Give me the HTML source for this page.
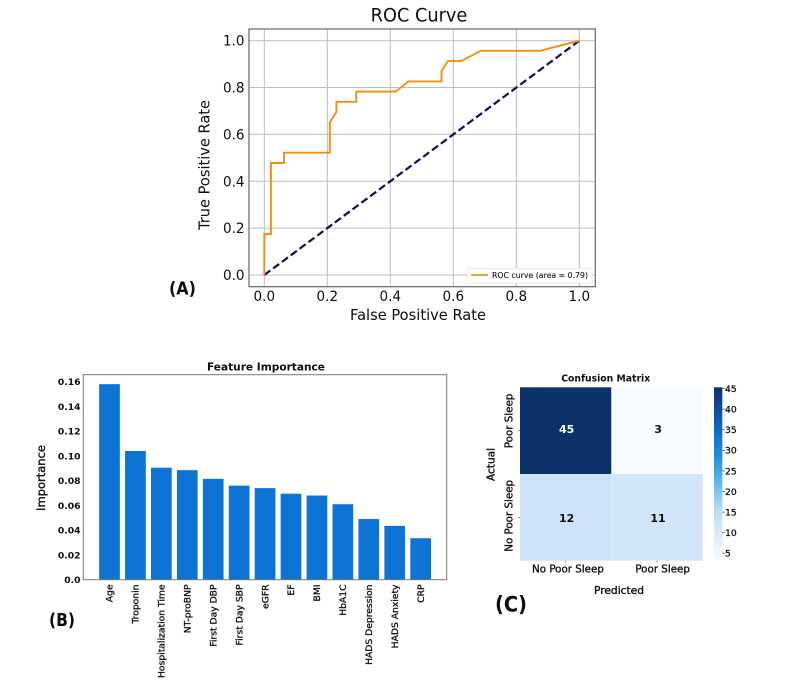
<!DOCTYPE html>
<html lang="en">
<head>
<meta charset="utf-8">
<title>Model evaluation figure</title>
<style>
html,body{margin:0;padding:0;background:#fff;}
body{width:792px;height:693px;overflow:hidden;}
svg{display:block;font-family:"DejaVu Sans","Liberation Sans",sans-serif;}
text{fill:#111;}
.soft{filter:url(#soft);}
</style>
</head>
<body>
<svg id="fig" xmlns="http://www.w3.org/2000/svg" width="792" height="693" viewBox="0 0 792 693">
<defs>
<filter id="soft" x="-2%" y="-2%" width="104%" height="104%"><feGaussianBlur stdDeviation="0.38"/></filter>
<linearGradient id="cbar-gradient" x1="0" y1="1" x2="0" y2="0">
<stop offset="0" stop-color="#f7fbff"/>
<stop offset="0.15" stop-color="#dcebfa"/>
<stop offset="0.3" stop-color="#b5daf6"/>
<stop offset="0.45" stop-color="#5db8ee"/>
<stop offset="0.6" stop-color="#1f8fe0"/>
<stop offset="0.75" stop-color="#0f6cc4"/>
<stop offset="0.9" stop-color="#0a4595"/>
<stop offset="1" stop-color="#08306b"/>
</linearGradient>
</defs>
<g id="root" class="soft"></g>
</svg>
<script>
// ROC data
const rocFpr = [0,0,0.021,0.021,0.0625,0.0625,0.208,0.208,0.229,0.229,0.292,0.292,0.417,0.458,0.5625,0.5625,0.583,0.625,0.6875,0.875,1];
const rocTpr = [0,0.175,0.175,0.478,0.478,0.522,0.522,0.652,0.696,0.739,0.739,0.783,0.783,0.826,0.826,0.87,0.913,0.913,0.957,0.957,1];
const chanceX = [0,1];
const chanceY = [0,1];
const rocTicks = [0,0.2,0.4,0.6,0.8,1];
const rocTickLabels = ["0.0","0.2","0.4","0.6","0.8","1.0"];

// Feature importance data
const features = ["Age","Troponin","Hospitalization Time","NT-proBNP","First Day DBP","First Day SBP","eGFR","EF","BMI","HbA1C","HADS Depression","HADS Anxiety","CRP"];
const importance = [0.158,0.104,0.0905,0.0885,0.0815,0.076,0.074,0.0695,0.068,0.061,0.049,0.0435,0.0335];
const importanceTicks = [0,0.02,0.04,0.06,0.08,0.1,0.12,0.14,0.16];
const importanceTickLabels = ["0.0","0.02","0.04","0.06","0.08","0.10","0.12","0.14","0.16"];

// Confusion matrix data
const actualLabels = ["Poor Sleep","No Poor Sleep"];
const predictedLabels = ["No Poor Sleep","Poor Sleep"];
const matrixValues = [[45,3],[12,11]];
const colorbarTicks = [5,10,15,20,25,30,35,40,45];

const root = document.getElementById('root');
const NS = 'http://www.w3.org/2000/svg';
function mk(tag, attrs, parent, txt){
  const el = document.createElementNS(NS, tag);
  for (const k in attrs) el.setAttribute(k, attrs[k]);
  if (txt !== undefined) el.textContent = txt;
  (parent || root).appendChild(el);
  return el;
}
function fit(el, len){
  el.setAttribute('textLength', len);
  el.setAttribute('lengthAdjust', 'spacingAndGlyphs');
  return el;
}
function scale(d0,d1,r0,r1){ return v => r0 + (v-d0)/(d1-d0)*(r1-r0); }

/* ---------- Panel A: ROC ---------- */
const gA = mk('g', {});


const rx = scale(0,1,264.3,579.3);
const ry = scale(0,1,275,40.7);
const rocBox = {l:249,r:595.3,t:29,b:286.7};

rocTicks.forEach((t,i)=>{
  const gx = mk('line',{x1:rx(t),x2:rx(t),y1:rocBox.t,y2:rocBox.b,stroke:'#bdbdbd','stroke-width':1},gA);
  
  
  const gy = mk('line',{x1:rocBox.l,x2:rocBox.r,y1:ry(t),y2:ry(t),stroke:'#bdbdbd','stroke-width':1},gA);
  
  
  const xl = fit(mk('text',{x:rx(t),y:301,'font-size':14.5,'text-anchor':'middle'},gA,rocTickLabels[i]),21.5);
  
  
  const yl = fit(mk('text',{x:244.5,y:ry(t)+5,'font-size':14.5,'text-anchor':'end'},gA,rocTickLabels[i]),21.5);
  
  
});
const chance = mk('polyline',{points:chanceX.map((x,i)=>rx(x)+','+ry(chanceY[i])).join(' '),fill:'none',stroke:'#08085c','stroke-width':2.2,'stroke-dasharray':'7.5 3.5'},gA);


const roc = mk('polyline',{points:rocFpr.map((x,i)=>rx(x)+','+ry(rocTpr[i])).join(' '),fill:'none',stroke:'#f0900f','stroke-width':1.9},gA);


const rocFrame = mk('rect',{x:rocBox.l,y:rocBox.t,width:rocBox.r-rocBox.l,height:rocBox.b-rocBox.t,fill:'none',stroke:'#666','stroke-width':1.2},gA);


const rocLegend = mk('g',{},gA);


mk('rect',{x:467.5,y:268.5,width:124.5,height:14.5,fill:'#fff',stroke:'#e6e6e6','stroke-width':0.8,rx:1.5},rocLegend);
mk('line',{x1:471,x2:488,y1:275,y2:275,stroke:'#f0900f','stroke-width':1.8},rocLegend);
fit(mk('text',{x:492,y:278,'font-size':7.5,fill:'#222',stroke:'#222','stroke-width':0.1},rocLegend,'ROC curve (area = 0.79)'),96);
const rocTitle = fit(mk('text',{x:419,y:21.7,'font-size':18.5,'text-anchor':'middle'},gA,'ROC Curve'),96.7);


const rocXT = fit(mk('text',{x:418,y:320,'font-size':15.5,'text-anchor':'middle'},gA,'False Positive Rate'),136);


const rocYT = fit(mk('text',{transform:'translate(209.3,165) rotate(-90)','font-size':15.5,'text-anchor':'middle'},gA,'True Positive Rate'),130);


const labA = fit(mk('text',{x:169,y:294.5,'font-size':18,'font-weight':'bold'},root,'(A)'),27);



/* ---------- Panel B: Feature importance ---------- */
const gB = mk('g', {});


const bBox = {l:83.3,r:446.7,t:374.7,b:579.7};
const by = scale(0,0.16,bBox.b,381.7);
const bStep = 25.93;
const bx = i => 109.5 + i*bStep;
const barW = 20.7;
features.forEach((f,i)=>{
  const b = mk('rect',{x:bx(i)-barW/2,y:by(importance[i]),width:barW,height:by(0)-by(importance[i]),fill:'#0873d4'},gB);
  
  
  const t = mk('text',{transform:'translate('+(bx(i)+3.2)+',584.5) rotate(-90)','font-size':9.2,'text-anchor':'end',stroke:'#111','stroke-width':0.3},gB,f);
  
  
});
importanceTicks.forEach((t,i)=>{
  const l = mk('text',{x:80.5,y:by(t)+3.4,'font-size':9.2,'font-weight':'bold','text-anchor':'end'},gB,importanceTickLabels[i]);
  
  
});
const bFrame = mk('rect',{x:bBox.l,y:bBox.t,width:bBox.r-bBox.l,height:bBox.b-bBox.t,fill:'none',stroke:'#777','stroke-width':1},gB);


const bTitle = fit(mk('text',{x:266,y:370.5,'font-size':11,'font-weight':'bold','text-anchor':'middle'},gB,'Feature Importance'),118);


const bYT = mk('text',{transform:'translate(45,478) rotate(-90)','font-size':11.5,'text-anchor':'middle',stroke:'#111','stroke-width':0.35},gB,'Importance');


const labB = fit(mk('text',{x:49,y:626,'font-size':18,'font-weight':'bold'},root,'(B)'),26);



/* ---------- Panel C: Confusion matrix ---------- */
const gC = mk('g', {});


const hm = {l:520,r:702.7,t:387.3,b:560.7};
const cellW = (hm.r-hm.l)/predictedLabels.length;
const cellH = (hm.b-hm.t)/actualLabels.length;
const vMin = 3, vMax = 45;
const blues = [[247,251,255],[208,229,250],[181,218,246],[93,184,238],[31,143,224],[15,108,196],[10,69,149],[8,48,107]];
const bluesPos = [0,0.2,0.3,0.45,0.6,0.75,0.9,1];
function cellColor(v){
  const t = Math.max(0,Math.min(1,(v-vMin)/(vMax-vMin)));
  let i = 0;
  while (i < bluesPos.length-2 && t > bluesPos[i+1]) i++;
  const f = (t-bluesPos[i])/(bluesPos[i+1]-bluesPos[i]);
  const c = blues[i].map((a,k)=>Math.round(a+(blues[i+1][k]-a)*f));
  return 'rgb('+c.join(',')+')';
}
matrixValues.forEach((row,r)=>{
  row.forEach((v,c)=>{
    const x = hm.l+c*cellW, y = hm.t+r*cellH;
    const cell = mk('rect',{x:x,y:y,width:cellW,height:cellH,fill:cellColor(v)},gC);
    
    
    const t = mk('text',{x:x+cellW/2+1,y:y+cellH/2+2.5+r*2,'font-size':11,'font-weight':'bold','text-anchor':'middle',style:'fill:'+(v>24?'#fff':'#111')},gC,String(v));
    
    
  });
});
predictedLabels.forEach((p,i)=>{
  const x = hm.l+(i+0.5)*cellW;
  mk('line',{x1:x,x2:x,y1:hm.b,y2:hm.b+2,stroke:'#666','stroke-width':0.7},gC);
  const l = mk('text',{x:x+2.3+i*3.3,y:572.5,'font-size':10.3,'text-anchor':'middle',stroke:'#111','stroke-width':0.3},gC,p);
  
  
});
actualLabels.forEach((a,i)=>{
  const y = hm.t+(i+0.5)*cellH;
  mk('line',{x1:hm.l-2,x2:hm.l,y1:y,y2:y,stroke:'#666','stroke-width':0.7},gC);
  const l = mk('text',{transform:'translate(512.7,'+(y-9.7+i*8.2)+') rotate(-90)','font-size':10.3,'text-anchor':'middle',stroke:'#111','stroke-width':0.3},gC,a);
  
  
});
const cTitle = fit(mk('text',{x:605.7,y:381.5,'font-size':9.8,'font-weight':'bold','text-anchor':'middle'},gC,'Confusion Matrix'),89);


const cXT = fit(mk('text',{x:619,y:594,'font-size':10.3,'text-anchor':'middle',stroke:'#111','stroke-width':0.35},gC,'Predicted'),50);


const cYT = fit(mk('text',{transform:'translate(494.3,464.5) rotate(-90)','font-size':10.3,'text-anchor':'middle',stroke:'#111','stroke-width':0.35},gC,'Actual'),33);


const cbar = mk('rect',{x:714,y:387.3,width:8.3,height:172.7,fill:'url(#cbar-gradient)'},gC);


const cby = scale(5,45,553.3,388.5);
colorbarTicks.forEach(t=>{
  const m = mk('line',{x1:722.3,x2:724.8,y1:cby(t),y2:cby(t),stroke:'#444','stroke-width':0.8},gC);
  
  
  const l = mk('text',{x:725,y:cby(t)+3.4,'font-size':9.2,stroke:'#111','stroke-width':0.3},gC,String(t));
  
  
});
const labC = fit(mk('text',{x:495,y:611.5,'font-size':21,'font-weight':'bold'},root,'(C)'),32);


</script>
</body>
</html>
